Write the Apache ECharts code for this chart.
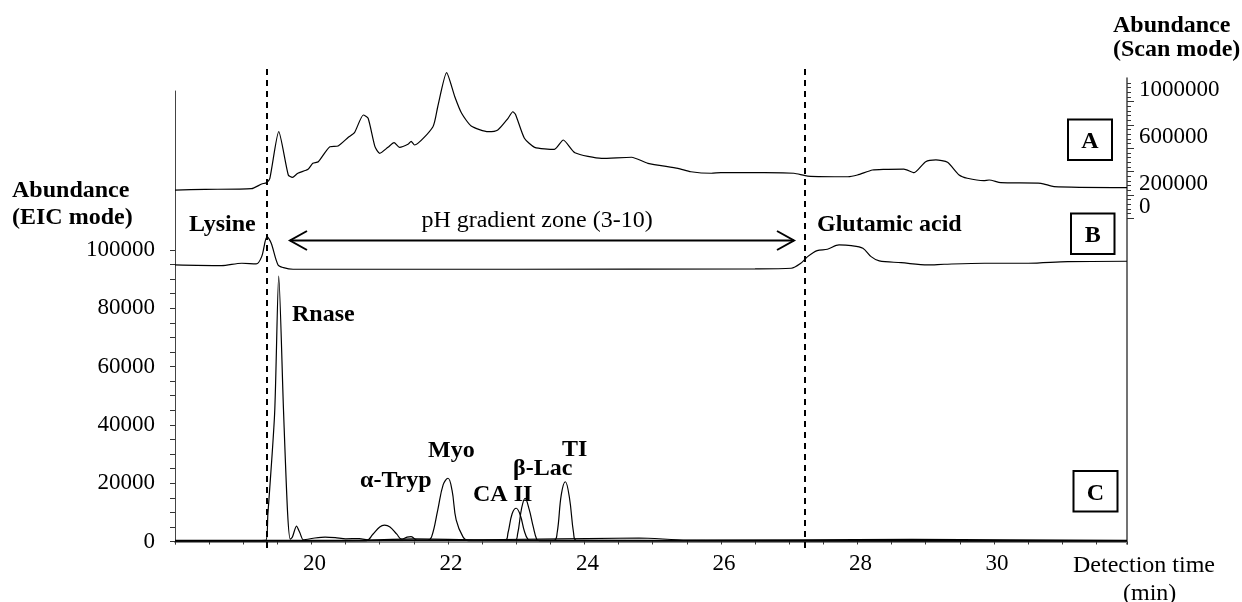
<!DOCTYPE html>
<html>
<head>
<meta charset="utf-8">
<script src="https://cdn.jsdelivr.net/npm/echarts@6/dist/echarts.min.js"></script>
<style>
html,body{margin:0;padding:0;background:#fff;}
#chart{width:1242px;height:602px;}
</style>
</head>
<body>
<div id="chart"></div>
<script>
// ---- Data ----
// Trace A: scan mode (right axis)
const aTime = [18.0, 18.44, 19.12, 19.27, 19.34, 19.39, 19.52, 19.66, 19.72, 19.80, 19.95, 20.02, 20.10, 20.27, 20.39, 20.54, 20.63, 20.76, 20.83, 20.93, 21.00, 21.12, 21.21, 21.29, 21.42, 21.46, 21.51, 21.78, 21.85, 21.98, 22.10, 22.20, 22.34, 22.59, 22.73, 22.88, 22.95, 22.99, 23.12, 23.27, 23.56, 23.69, 23.86, 24.25, 24.69, 24.93, 25.37, 25.56, 25.86, 26.00, 26.64, 27.07, 27.27, 27.86, 28.00, 28.22, 28.39, 28.68, 28.83, 29.00, 29.15, 29.32, 29.49, 29.61, 29.85, 29.93, 30.10, 30.69, 30.88, 31.95];
const aScan = [242000, 248000, 254000, 294000, 305000, 343000, 742000, 371000, 351000, 386000, 420000, 471000, 485000, 614000, 620000, 694000, 734000, 885000, 857000, 614000, 557000, 608000, 648000, 608000, 637000, 660000, 628000, 785000, 956000, 1248000, 1042000, 900000, 791000, 742000, 757000, 857000, 913000, 890000, 686000, 608000, 591000, 671000, 562000, 514000, 523000, 471000, 428000, 399000, 386000, 391000, 391000, 386000, 362000, 356000, 371000, 414000, 420000, 422000, 391000, 485000, 500000, 480000, 371000, 343000, 322000, 328000, 305000, 300000, 271000, 262000];

// Trace B: EIC of lysine / glutamic acid (left axis)
const bTime = [18.0, 18.68, 18.98, 19.19, 19.27, 19.35, 19.41, 19.51, 19.59, 19.73, 23.0, 26.5, 27.03, 27.17, 27.27, 27.41, 27.56, 27.73, 27.91, 28.08, 28.20, 28.32, 28.64, 29.03, 29.27, 29.86, 30.5, 31.08, 31.95];
const bEic = [94860, 94630, 95450, 95210, 97720, 104580, 102300, 94860, 93940, 93390, 93390, 93500, 93740, 95450, 97720, 99780, 100250, 101730, 101490, 100600, 97720, 96240, 95660, 94860, 95110, 95450, 95450, 96000, 96140];

// Trace C: EIC of proteins (left axis)
const rnTime = [18.0, 19.0, 19.33, 19.36, 19.46, 19.52, 19.59, 19.65, 19.69, 19.72, 19.78, 19.83, 19.88, 20.05, 20.2, 20.35, 20.5, 20.7, 20.85, 21.5, 22.5, 24.8, 25.5, 28.8, 31.95];
const rnEic = [300, 300, 400, 9000, 44000, 91000, 45000, 9800, 800, 1500, 5300, 3000, 600, 1200, 1500, 1300, 900, 1000, 500, 900, 600, 1200, 500, 700, 400];
const tryTime = [18.0, 20.8, 20.9, 21.0, 21.07, 21.15, 21.25, 21.32, 21.4, 21.46, 21.55, 31.95];
const tryEic = [200, 300, 2500, 5000, 5600, 5000, 2500, 800, 1500, 1700, 400, 300];
const myoTime = [18.0, 21.7, 21.76, 21.85, 21.93, 22.0, 22.06, 22.12, 22.22, 22.3, 31.95];
const myoEic = [200, 500, 1600, 10800, 19500, 21700, 17500, 7400, 1600, 300, 200];
const caTime = [18.0, 22.84, 22.88, 22.94, 23.0, 23.06, 23.12, 23.17, 23.22, 31.95];
const caEic = [400, 500, 3000, 9500, 11400, 9000, 3500, 800, 400, 300];
const lacTime = [18.0, 22.98, 23.02, 23.08, 23.13, 23.19, 23.25, 23.3, 23.34, 31.95];
const lacEic = [300, 400, 2500, 11500, 14800, 11000, 5000, 800, 300, 300];
const tiTime = [18.0, 23.55, 23.6, 23.66, 23.72, 23.78, 23.84, 23.88, 31.95];
const tiEic = [300, 400, 3000, 16000, 20500, 15000, 3000, 400, 300];

// Zone boundaries (min)
const zoneBounds = [19.35, 27.23];

// Tick labels
const xLabels = [20, 22, 24, 26, 28, 30];
const eicLabels = [0, 20000, 40000, 60000, 80000, 100000];
const scanLabels = [0, 200000, 600000, 1000000];

// ---- Build ----
const FONT = '"Liberation Serif", "Times New Roman", serif';
const zip = (t, v) => t.map((x, i) => [x, v[i]]);
function range(a, b, s) { const r = []; for (let v = a; v <= b + 1e-9; v += s) r.push(v); return r; }
const plain = v => String(Math.round(v));

const X_MIN = 18, X_MAX = 31.95;

const chart = echarts.init(document.getElementById('chart'), null, {renderer: 'canvas'});

function lineSeries(name, t, v, xi, yi, smooth) {
  return {
    name, type: 'line', xAxisIndex: xi, yAxisIndex: yi,
    data: zip(t, v), symbol: 'none', smooth: smooth, clip: false,
    lineStyle: {color: '#000', width: 1.2}, silent: true, animation: false
  };
}

const txt = (text, x, y, opt) => Object.assign({
  type: 'text', x, y,
  style: Object.assign({text, fill: '#000', font: 'bold 24px ' + FONT, textVerticalAlign: 'middle', textAlign: 'left'}, opt || {})
});
const box = (x, y, w, h) => ({type: 'rect', shape: {x, y, width: w, height: h}, style: {fill: 'none', stroke: '#000', lineWidth: 2}});

const option = {
  animation: false,
  grid: [
    {left: 175, right: 115, top: 91, bottom: 58},
    {left: 175, right: 115, top: 78, bottom: 58},
    {left: 175, right: 115, top: 68, bottom: 54}
  ],
  xAxis: [
    {
      type: 'value', gridIndex: 0, min: X_MIN, max: X_MAX, interval: 0.5,
      axisLine: {show: true, lineStyle: {color: '#888', width: 2}},
      axisTick: {show: true, length: 3, lineStyle: {color: '#333'}},
      splitLine: {show: false},
      axisLabel: {
        color: '#000', fontFamily: FONT, fontSize: 23, margin: 8, padding: [0, 0, 0, 6],
        formatter: v => xLabels.indexOf(Math.round(v * 100) / 100) >= 0 ? plain(v) : ''
      }
    },
    {type: 'value', gridIndex: 1, min: X_MIN, max: X_MAX, show: false},
    {type: 'value', gridIndex: 2, min: X_MIN, max: X_MAX, show: false}
  ],
  yAxis: [
    {
      type: 'value', gridIndex: 0, position: 'left', min: -860, max: 154540,
      axisLine: {show: true, lineStyle: {color: '#444', width: 1}},
      axisTick: {show: true, length: 5, customValues: range(0, 100000, 5000), lineStyle: {color: '#333'}},
      splitLine: {show: false},
      axisLabel: {color: '#000', fontFamily: FONT, fontSize: 23, margin: 20, customValues: eicLabels, formatter: plain}
    },
    {
      type: 'value', gridIndex: 1, position: 'right', min: -2790900, max: 1202200,
      axisLine: {show: true, lineStyle: {color: '#444', width: 1.5}},
      axisTick: {show: true, length: 7, customValues: range(0, 1000000, 200000), lineStyle: {color: '#333'}},
      splitLine: {show: false},
      axisLabel: {color: '#000', fontFamily: FONT, fontSize: 23, margin: 12, verticalAlign: 'bottom', customValues: scanLabels, formatter: plain}
    },
    {
      type: 'value', gridIndex: 1, position: 'right', min: -2790900, max: 1202200,
      axisLine: {show: false},
      axisTick: {show: true, length: 4, customValues: range(0, 1160000, 40000), lineStyle: {color: '#333'}},
      splitLine: {show: false},
      axisLabel: {show: false}
    },
    {type: 'value', gridIndex: 2, min: 0, max: 1, show: false}
  ],
  series: [
    lineSeries('A', aTime, aScan, 1, 1, 0.2),
    lineSeries('B', bTime, bEic, 0, 0, 0.3),
    lineSeries('Rnase', rnTime, rnEic, 0, 0, 0.25),
    lineSeries('a-Tryp', tryTime, tryEic, 0, 0, 0.4),
    lineSeries('Myo', myoTime, myoEic, 0, 0, 0.4),
    lineSeries('CA II', caTime, caEic, 0, 0, 0.4),
    lineSeries('b-Lac', lacTime, lacEic, 0, 0, 0.4),
    lineSeries('TI', tiTime, tiEic, 0, 0, 0.4),
    {
      type: 'line', xAxisIndex: 2, yAxisIndex: 3, data: [], silent: true,
      markLine: {
        silent: true, symbol: ['none', 'none'], label: {show: false},
        lineStyle: {color: '#000', width: 2, type: [6, 5]},
        data: zoneBounds.map(v => ({xAxis: v}))
      }
    }
  ],
  graphic: [
    txt('Abundance', 12, 190.5),
    txt('(EIC mode)', 12, 217.5),
    txt('Abundance', 1113, 26),
    txt('(Scan mode)', 1113, 50),
    txt('Lysine', 189, 225),
    txt('Glutamic acid', 817, 225),
    txt('pH gradient zone (3-10)', 537, 221, {font: '24px ' + FONT, textAlign: 'center'}),
    txt('Rnase', 292, 314.5),
    txt('\u03b1-Tryp', 360, 481),
    txt('Myo', 428, 451),
    txt('CA II', 473, 494.5),
    txt('\u03b2-Lac', 513, 469),
    txt('TI', 562, 450),
    txt('Detection time', 1073, 566, {font: '24px ' + FONT}),
    txt('(min)', 1123, 594, {font: '24px ' + FONT}),
    box(1068, 119.5, 44, 40.5),
    box(1071, 213.5, 43.5, 40.5),
    box(1073.5, 471, 44, 40.5),
    txt('A', 1090, 142, {textAlign: 'center'}),
    txt('B', 1092.7, 236, {textAlign: 'center'}),
    txt('C', 1095.5, 493.5, {textAlign: 'center'}),
    // double-headed arrow for the pH gradient zone
    {type: 'line', shape: {x1: 290, y1: 240.5, x2: 794, y2: 240.5}, style: {stroke: '#000', lineWidth: 2}},
    {type: 'polyline', shape: {points: [[307, 231], [290, 240.5], [307, 250]]}, style: {stroke: '#000', lineWidth: 2, fill: 'none'}},
    {type: 'polyline', shape: {points: [[777, 231], [794, 240.5], [777, 250]]}, style: {stroke: '#000', lineWidth: 2, fill: 'none'}}
  ]
};

chart.setOption(option);
</script>
</body>
</html>
